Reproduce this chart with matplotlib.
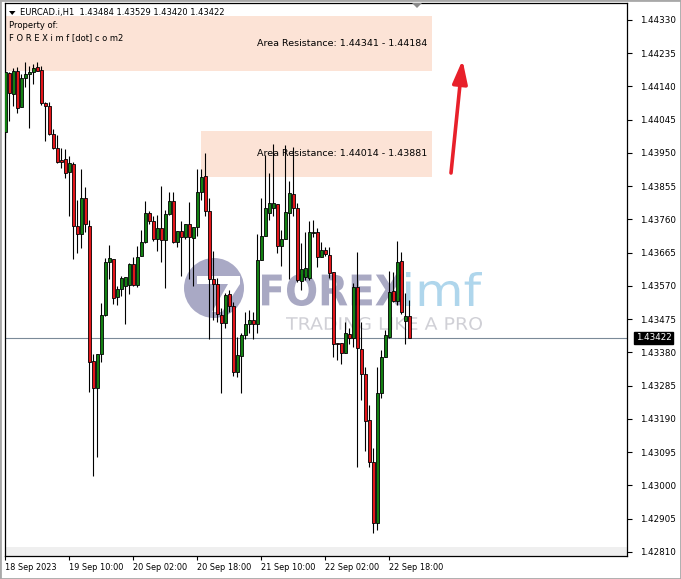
import matplotlib
matplotlib.use("Agg")
import matplotlib.pyplot as plt
from matplotlib.patches import Rectangle, Circle, Polygon, PathPatch
from matplotlib.textpath import TextPath
from matplotlib.font_manager import FontProperties
import matplotlib.transforms as mtransforms

plt.rcParams['font.family'] = ['DejaVu Sans']

symbol = "EURCAD.i,H1"

opens = [1.44011, 1.44178, 1.44118, 1.44184, 1.44082, 1.44163, 1.44175, 1.44180, 1.44195, 1.44187,
         1.44092, 1.44085, 1.44003, 1.43963, 1.43930, 1.43932, 1.43896, 1.43918, 1.43742, 1.43718,
         1.43820, 1.43742, 1.43356, 1.43278, 1.43375, 1.43487, 1.43638, 1.43647, 1.43538, 1.43561,
         1.43570, 1.43573, 1.43632, 1.43573, 1.43656, 1.43695, 1.43778, 1.43756, 1.43704, 1.43735,
         1.43701, 1.43776, 1.43814, 1.43696, 1.43727, 1.43711, 1.43747, 1.43708, 1.43738, 1.43839,
         1.43884, 1.43784, 1.43589, 1.43576, 1.43487, 1.43463, 1.43547, 1.43513, 1.43325, 1.43370,
         1.43430, 1.43460, 1.43473, 1.43460, 1.43644, 1.43713, 1.43779, 1.43792, 1.43804, 1.43684,
         1.43703, 1.43778, 1.43833, 1.43792, 1.43585, 1.43595, 1.43594, 1.43720, 1.43723, 1.43654,
         1.43673, 1.43658, 1.43611, 1.43408, 1.43406, 1.43379, 1.43433, 1.43420, 1.43566, 1.43389,
         1.43319, 1.43187, 1.43066, 1.42892, 1.43263, 1.43366, 1.43423, 1.43557, 1.43528, 1.43641,
         1.43471, 1.43484]
highs = [1.44187, 1.44180, 1.44192, 1.44196, 1.44176, 1.44209, 1.44198, 1.44203, 1.44209, 1.44198,
         1.44096, 1.44095, 1.44018, 1.44001, 1.43963, 1.43960, 1.43941, 1.43923, 1.43816, 1.43904,
         1.43853, 1.43759, 1.43376, 1.43375, 1.43520, 1.43651, 1.43686, 1.43647, 1.43570, 1.43598,
         1.43596, 1.43636, 1.43654, 1.43684, 1.43730, 1.43814, 1.43785, 1.43771, 1.43773, 1.43856,
         1.43787, 1.43839, 1.43839, 1.43727, 1.43756, 1.43747, 1.43811, 1.43738, 1.43904, 1.43904,
         1.43949, 1.43820, 1.43671, 1.43592, 1.43506, 1.43549, 1.43559, 1.43525, 1.43425, 1.43435,
         1.43497, 1.43501, 1.43497, 1.43719, 1.43820, 1.43944, 1.43892, 1.43976, 1.43804, 1.43730,
         1.43973, 1.43871, 1.43968, 1.43806, 1.43692, 1.43725, 1.43756, 1.43759, 1.43735, 1.43696,
         1.43681, 1.43681, 1.43611, 1.43408, 1.43406, 1.43468, 1.43449, 1.43578, 1.43668, 1.43468,
         1.43339, 1.43230, 1.43106, 1.43339, 1.43387, 1.43444, 1.43614, 1.43611, 1.43699, 1.43668,
         1.43549, 1.43529]
lows = [1.43994, 1.44042, 1.44085, 1.44063, 1.44082, 1.44138, 1.44020, 1.44146, 1.44184, 1.44087,
        1.43985, 1.44001, 1.43961, 1.43920, 1.43908, 1.43878, 1.43771, 1.43647, 1.43665, 1.43678,
        1.43725, 1.43268, 1.43028, 1.43082, 1.43352, 1.43485, 1.43589, 1.43519, 1.43516, 1.43542,
        1.43460, 1.43546, 1.43570, 1.43568, 1.43656, 1.43692, 1.43747, 1.43699, 1.43671, 1.43639,
        1.43563, 1.43773, 1.43692, 1.43681, 1.43598, 1.43703, 1.43589, 1.43570, 1.43713, 1.43816,
        1.43770, 1.43418, 1.43473, 1.43468, 1.43263, 1.43449, 1.43497, 1.43313, 1.43311, 1.43265,
        1.43418, 1.43435, 1.43418, 1.43437, 1.43644, 1.43713, 1.43759, 1.43770, 1.43665, 1.43627,
        1.43703, 1.43589, 1.43770, 1.43582, 1.43559, 1.43587, 1.43587, 1.43709, 1.43625, 1.43654,
        1.43656, 1.43592, 1.43366, 1.43359, 1.43347, 1.43379, 1.43404, 1.43396, 1.43054, 1.43244,
        1.43099, 1.43054, 1.42863, 1.42873, 1.43249, 1.43366, 1.43420, 1.43525, 1.43516, 1.43490,
        1.43404, 1.43420]
closes = [1.44180, 1.44120, 1.44184, 1.44079, 1.44163, 1.44175, 1.44180, 1.44194, 1.44184, 1.44092,
          1.44085, 1.44004, 1.43965, 1.43925, 1.43925, 1.43894, 1.43920, 1.43742, 1.43718, 1.43820,
          1.43746, 1.43352, 1.43278, 1.43375, 1.43487, 1.43638, 1.43649, 1.43535, 1.43561, 1.43592,
          1.43596, 1.43632, 1.43573, 1.43654, 1.43696, 1.43778, 1.43756, 1.43704, 1.43735, 1.43701,
          1.43776, 1.43814, 1.43696, 1.43727, 1.43711, 1.43747, 1.43711, 1.43738, 1.43839, 1.43880,
          1.43784, 1.43589, 1.43576, 1.43490, 1.43463, 1.43544, 1.43513, 1.43325, 1.43373, 1.43430,
          1.43461, 1.43473, 1.43460, 1.43644, 1.43713, 1.43792, 1.43806, 1.43808, 1.43684, 1.43703,
          1.43782, 1.43836, 1.43792, 1.43587, 1.43618, 1.43620, 1.43723, 1.43725, 1.43652, 1.43673,
          1.43660, 1.43608, 1.43404, 1.43404, 1.43379, 1.43435, 1.43420, 1.43566, 1.43392, 1.43319,
          1.43185, 1.43066, 1.42892, 1.43263, 1.43366, 1.43430, 1.43554, 1.43528, 1.43638, 1.43497,
          1.43484, 1.43422]

# resistance zones
zone_tops = [1.44341, 1.44014]
zone_bottoms = [1.44184, 1.43881]
zone_starts = [-0.2, 48.9]
zone_ends = [106.7, 106.7]

y_ticks = [1.44330, 1.44235, 1.44140, 1.44045, 1.43950, 1.43855, 1.43760, 1.43665,
           1.43570, 1.43475, 1.43380, 1.43285, 1.43190, 1.43095, 1.43000, 1.42905, 1.42810]
x_tick_pos = [0, 16, 32, 48, 64, 80, 96]
x_tick_labels = ["18 Sep 2023", "19 Sep 10:00", "20 Sep 02:00", "20 Sep 18:00",
                 "21 Sep 10:00", "22 Sep 02:00", "22 Sep 18:00"]

W, H = 681, 579
fig = plt.figure(figsize=(W / 100, H / 100), dpi=100)
fig.patch.set_facecolor('white')

AX_L, AX_R, AX_T, AX_B = 4.5, 627, 3, 556
ax = fig.add_axes([AX_L / W, (H - AX_B) / H, (AX_R - AX_L) / W, (AX_B - AX_T) / H])
ax.set_facecolor('white')
ax.set_xlim(-0.2, 155.425)
ax.set_ylim(1.4279851, 1.4437843)

# bottom gray band
ax.add_patch(Rectangle((0, 0), 1, 9 / (AX_B - AX_T), transform=ax.transAxes,
                       facecolor='#EFEFEF', edgecolor='none', zorder=0.5))

# zones
zone_color = '#FCE3D6'
for x0, x1, lo, hi in zip(zone_starts, zone_ends, zone_bottoms, zone_tops):
    ax.add_patch(Rectangle((x0, lo), x1 - x0, hi - lo, facecolor=zone_color,
                           edgecolor='none', zorder=1))
    ax.text(62.9, (lo + hi) / 2, f"Area Resistance: {hi:.5f} - {lo:.5f}",
            fontsize=6.8, color='black', va='center', ha='left', zorder=6)


# watermark (pixel coordinates, top-left origin)
def text_in_box(s, x0, y0, x1, y1, color, weight='bold', z=1.5):
    tp = TextPath((0, 0), s, size=100, prop=FontProperties(family='DejaVu Sans', weight=weight))
    bb = tp.get_extents()
    sx = (x1 - x0) / bb.width
    sy = (y1 - y0) / bb.height
    tr = mtransforms.Affine2D().translate(-bb.x0, -bb.y0).scale(sx, sy).translate(x0, H - y1)
    ax.add_patch(PathPatch(tp, transform=tr, facecolor=color, edgecolor='none', zorder=z))


text_in_box("FOREX", 262, 274, 404, 306, '#A9A9C3')
text_in_box("imf", 406, 272, 482, 306, '#AFD6EC', weight='normal')
text_in_box("TRADING LIKE A PRO", 286, 317, 482, 330, '#D0D0D6', weight='normal')
ident = mtransforms.IdentityTransform()
ax.add_patch(Circle((214, H - 288), 30, transform=ident, facecolor='#A9A9C5',
                    edgecolor='none', zorder=1.5))
ax.add_patch(Polygon([(197, H - 276), (240, H - 276), (240, H - 284), (222, H - 312),
                      (212, H - 312), (228, H - 284), (197, H - 284)], closed=True,
                     transform=ident, facecolor='white', edgecolor='none', zorder=1.6))

# candles
xs = list(range(len(opens)))
ax.vlines(xs, lows, highs, color='black', linewidth=0.8, zorder=3)
for i, (o, h, l, c) in enumerate(zip(opens, highs, lows, closes)):
    bull = c >= o
    bottom = min(o, c)
    height = max(abs(c - o), 0.00001)
    ax.add_patch(Rectangle((i - 0.375, bottom), 0.75, height,
                           facecolor='#128012' if bull else '#E3151A',
                           edgecolor='black', linewidth=0.6, zorder=4))

# current price line
last = closes[-1]
ax.axhline(last, color='#7B8A98', linewidth=0.8, zorder=2.5)

# axes styling
for sp in ax.spines.values():
    sp.set_color('black')
    sp.set_linewidth(0.9)
ax.yaxis.tick_right()
ax.set_yticks(y_ticks)
ax.set_yticklabels([f"{v:.5f}" for v in y_ticks])
ax.tick_params(axis='y', direction='out', length=3.5, width=0.8, labelsize=6.3,
               pad=6, colors='black')
ax.set_xticks(x_tick_pos)
ax.set_xticklabels(x_tick_labels)
ax.tick_params(axis='x', direction='out', length=3, width=0.8, labelsize=5.9, pad=2)
for lbl in ax.get_xticklabels():
    lbl.set_horizontalalignment('left')

ax.annotate(f"{last:.5f}", xy=(1, last), xycoords=('axes fraction', 'data'),
            xytext=(6.5, 0), textcoords='offset points', va='center', ha='left',
            fontsize=6.3, color='white',
            bbox=dict(boxstyle='square,pad=0.18', fc='black', ec='black'))

# header texts
def fx(px):
    return px / W


def fy(py):
    return 1 - py / H


fig.text(fx(20.5), fy(12.7), f"{symbol}  {opens[-1]:.5f} {highs[-1]:.5f} {lows[-1]:.5f} {closes[-1]:.5f}",
         fontsize=6.0, va='center', ha='left', color='black')
fig.patches.append(Polygon([(fx(9), fy(11)), (fx(15.5), fy(11)), (fx(12.2), fy(15))],
                           closed=True, transform=fig.transFigure, facecolor='black',
                           edgecolor='none'))
fig.text(fx(9.3), fy(25.7), "Property of:", fontsize=6.0, va='center', ha='left', color='black')
fig.text(fx(9.3), fy(37.5), "F O R E X i m f [dot] c o m2", fontsize=6.0, va='center',
         ha='left', color='black')

# shift marker at top
fig.patches.append(Polygon([(fx(412), fy(3)), (fx(422), fy(3)), (fx(417), fy(8))],
                           closed=True, transform=fig.transFigure, facecolor='#8A8A8A',
                           edgecolor='none'))

# red arrow
ax.annotate('', xy=(462.5, H - 60), xytext=(451, H - 173), xycoords='figure pixels',
            textcoords='figure pixels',
            arrowprops=dict(arrowstyle='-|>,head_length=1.0,head_width=0.32',
                            color='#E8202A', lw=2.6, mutation_scale=14, shrinkA=0, shrinkB=0))

# window frame
fig.patches.append(Rectangle((0, 0), 1, 1, transform=fig.transFigure, fill=False,
                             edgecolor='#A8A8A8', linewidth=2.0))

fig.savefig('out.png', dpi=100, facecolor='white')
